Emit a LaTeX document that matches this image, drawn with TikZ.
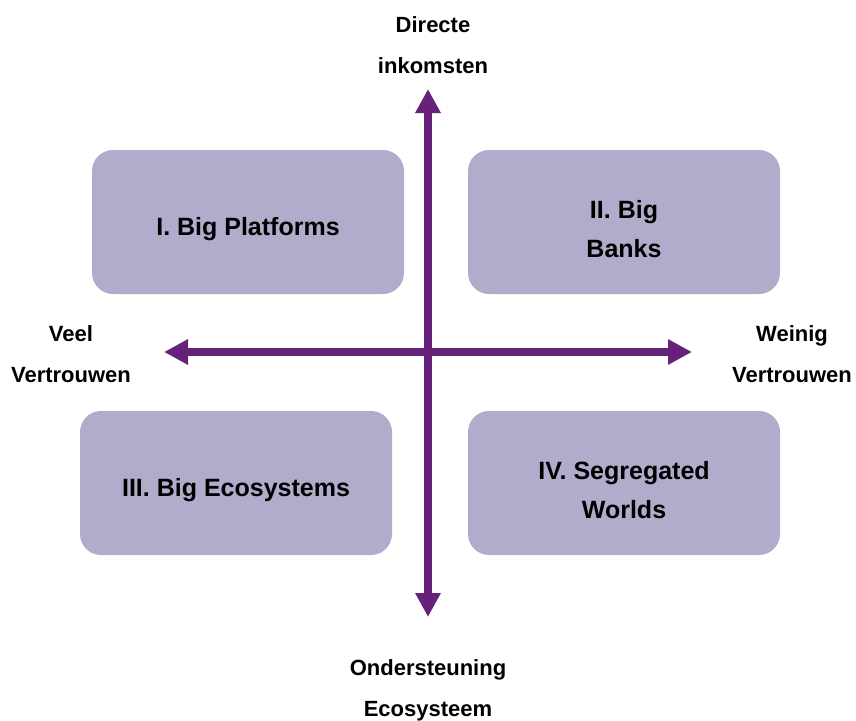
\documentclass[tikz,border=0pt]{standalone}
\usepackage{fontspec}
\setmainfont{Liberation Sans}
\usepackage{tikz}
\usetikzlibrary{positioning,arrows.meta}
\definecolor{quadfill}{RGB}{177,172,203}
\definecolor{axispurple}{RGB}{102,33,122}
\tikzset{
quad/.style={fill=quadfill, rounded corners=21pt, minimum width=312pt, minimum height=144pt, inner sep=0pt},
quadtext/.style={font=\fontsize{25}{39}\selectfont\bfseries, align=center, text=black},
axislabel/.style={font=\fontsize{22}{41}\selectfont\bfseries, align=center, text=black},
axis/.style={draw=axispurple, line width=7.5pt, {Triangle[width=24pt,length=24pt]}-{Triangle[width=24pt,length=24pt]}}
}

\begin{document}
\begin{tikzpicture}[x=1pt, y=-1pt]
\useasboundingbox (0,0) rectangle (856,720);
% quadrants
\node[quad] (q1) at (248,222) {};
\node[quad] (q2) at (624,222) {};
\node[quad] (q3) at (236,483) {};
\node[quad] (q4) at (624,483) {};
\node[quadtext] (t1) at ([yshift=-7pt]q1.center) {I. Big Platforms};
\node[quadtext] (t2) at ([yshift=-7pt]q2.center) {II. Big\\Banks};
\node[quadtext] (t3) at ([yshift=-7pt]q3.center) {III. Big Ecosystems};
\node[quadtext] (t4) at ([yshift=-7pt]q4.center) {IV. Segregated\\Worlds};
% axes
\coordinate (top) at (428,89);
\coordinate (bottom) at (428,617);
\coordinate (left) at (164,352);
\coordinate (right) at (692,352);
\draw[axis] (top) -- (bottom);
\draw[axis] (left) -- (right);
% axis labels
\node[axislabel] (up) at (433,45) {Directe\\inkomsten};
\node[axislabel] (down) at (428,690) {Ondersteuning\\Ecosysteem};
\node[axislabel] (veel) at (71,354) {Veel\\Vertrouwen};
\node[axislabel] (weinig) at (792,354) {Weinig\\Vertrouwen};
\end{tikzpicture}
\end{document}
